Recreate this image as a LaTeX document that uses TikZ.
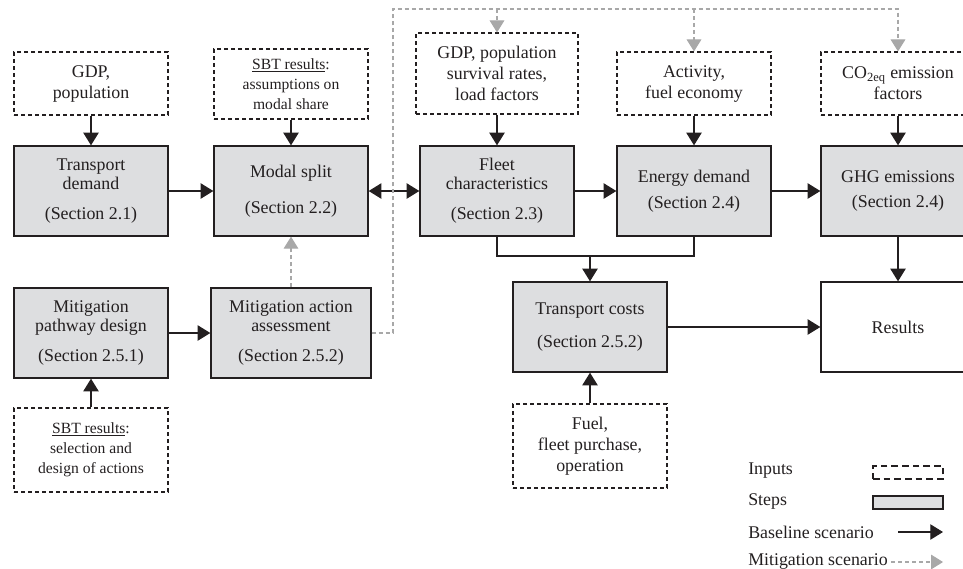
\documentclass[tikz,border=0pt]{standalone}
\usepackage{fontspec}
\setmainfont{Liberation Serif}
\usepackage{tikz}
\usetikzlibrary{arrows.meta}
\definecolor{inkGray}{RGB}{35,31,32}
\definecolor{stepGray}{RGB}{221,222,224}
\definecolor{mitGray}{RGB}{168,168,168}
\tikzstyle{fInput} = [rectangle, draw=inkGray, line width=0.9pt, dash pattern=on 3pt off 2.25pt, minimum width=115.5pt, minimum height=47.25pt, inner sep=0pt, align=center, text=inkGray, font=\fontsize{13.4}{15.75}\selectfont]
\tikzstyle{fSbt} = [fInput, minimum height=63pt, font=\fontsize{11.7}{15}\selectfont]
\tikzstyle{fStep} = [rectangle, draw=inkGray, line width=1pt, fill=stepGray, minimum width=115.5pt, minimum height=67.5pt, inner sep=0pt, align=center, text=inkGray, font=\fontsize{13.4}{14.3}\selectfont]
\tikzstyle{fResult} = [fStep, fill=white]
\tikzstyle{fLegend} = [anchor=west, inner sep=0pt, text=inkGray, font=\fontsize{13.4}{14}\selectfont]
\tikzstyle{fLine} = [line width=0.85pt, draw=inkGray]
\tikzstyle{fArrow} = [fLine, -{Triangle[length=9.5pt, width=11.5pt]}]
\tikzstyle{fBiArrow} = [fLine, {Triangle[length=9.5pt, width=11.5pt]}-{Triangle[length=9.5pt, width=11.5pt]}]
\tikzstyle{fMitArrow} = [line width=0.8pt, draw=mitGray, dash pattern=on 3pt off 2.25pt, -{Triangle[length=9pt, width=11pt]}]

\begin{document}
\begin{tikzpicture}[x=0.75pt, y=-0.75pt, node distance=150pt]
    \useasboundingbox (0,0) rectangle (963,568);
    \clip (0,0) rectangle (963,568);

    % steps
    \node (tdemand) [fStep] at (91,191) {Transport\\demand\\[8pt](Section 2.1)};
    \node (modal) [fStep, right of=tdemand] {Modal split\\[13pt](Section 2.2)};
    \node (fleet) [fStep, right of=modal, xshift=4.5pt] {Fleet\\characteristics\\[8pt](Section 2.3)};
    \node (energy) [fStep, right of=fleet, xshift=-2.25pt] {Energy demand\\[5pt](Section 2.4)};
    \node (ghg) [fStep, right of=energy, xshift=3pt] {GHG emissions\\[5pt](Section 2.4)};
    \node (mpath) [fStep, node distance=106.5pt, below of=tdemand] {Mitigation\\pathway design\\[8pt](Section 2.5.1)};
    \node (maction) [fStep, minimum width=120pt, right of=mpath] {Mitigation action\\assessment\\[8pt](Section 2.5.2)};
    \node (tcosts) [fStep] at (590,327) {Transport costs\\[10pt](Section 2.5.2)};
    \node (results) [fResult, node distance=102pt, below of=ghg] {Results};

    % inputs
    \node (gdp) [fInput, node distance=80.6pt, above of=tdemand] {GDP,\\population};
    \node (sbtModal) [fSbt, minimum height=52.5pt, node distance=80.25pt, above of=modal] {\underline{SBT results}:\\assumptions on\\modal share};
    \node (gdpSurv) [fInput, minimum width=121.5pt, minimum height=60.75pt, node distance=88.1pt, above of=fleet] {GDP, population\\survival rates,\\load factors};
    \node (activity) [fInput, node distance=80.6pt, above of=energy] {Activity,\\fuel economy};
    \node (co2) [fInput, node distance=80.6pt, above of=ghg] {CO\textsubscript{2eq} emission\\factors};
    \node (fuel) [fInput, minimum height=63pt, node distance=89.25pt, below of=tcosts] {Fuel,\\fleet purchase,\\operation};
    \node (sbtSel) [fSbt, node distance=87.75pt, below of=mpath] {\underline{SBT results}:\\selection and\\design of actions};

    % baseline links
    \draw [fArrow] (gdp) -- (tdemand);
    \draw [fArrow] (sbtModal) -- (modal);
    \draw [fArrow] (gdpSurv) -- (fleet);
    \draw [fArrow] (activity) -- (energy);
    \draw [fArrow] (co2) -- (ghg);
    \draw [fArrow] (tdemand) -- (modal);
    \draw [fBiArrow] (modal) -- (fleet);
    \draw [fArrow] (fleet) -- (energy);
    \draw [fArrow] (energy) -- (ghg);
    \draw [fArrow] (ghg) -- (results);
    \coordinate (costMerge) at (590,256);
    \draw [fLine] (fleet.south) |- (costMerge) -| (energy.south);
    \draw [fArrow] (costMerge) -- (tcosts);
    \draw [fArrow] (tcosts) -- (results);
    \draw [fArrow] (fuel) -- (tcosts);
    \draw [fArrow] (sbtSel) -- (mpath);
    \draw [fArrow] (mpath) -- (maction);

    % mitigation links
    \coordinate (mitCorner) at (393,9);
    \draw [fMitArrow] (maction) -- (modal);
    \draw [fMitArrow] (maction.east) -| (mitCorner) -| (co2.north);
    \draw [fMitArrow] (gdpSurv.north |- mitCorner) -- (gdpSurv.north);
    \draw [fMitArrow] (activity.north |- mitCorner) -- (activity.north);

    % legend
    \node (lgInputs) [fLegend] at (748,471) {Inputs};
    \node (lgSteps) [fLegend] at (748,501) {Steps};
    \node (lgBase) [fLegend] at (748,532) {Baseline scenario};
    \node (lgMit) [fLegend] at (748,562) {Mitigation scenario};
    \node (lgInputBox) [fInput, minimum width=52.5pt, minimum height=9.75pt, line width=1.2pt, dash pattern=on 5pt off 3pt] at (908,472.5) {};
    \node (lgStepBox) [fStep, minimum width=52.5pt, minimum height=9.75pt, line width=1.6pt] at (908,502.5) {};
    \coordinate (lgBaseFrom) at (898,532);
    \coordinate (lgBaseTo) at (943,532);
    \coordinate (lgMitFrom) at (891,562);
    \coordinate (lgMitTo) at (943,562);
    \draw [fArrow] (lgBaseFrom) -- (lgBaseTo);
    \draw [fMitArrow] (lgMitFrom) -- (lgMitTo);
\end{tikzpicture}
\end{document}
